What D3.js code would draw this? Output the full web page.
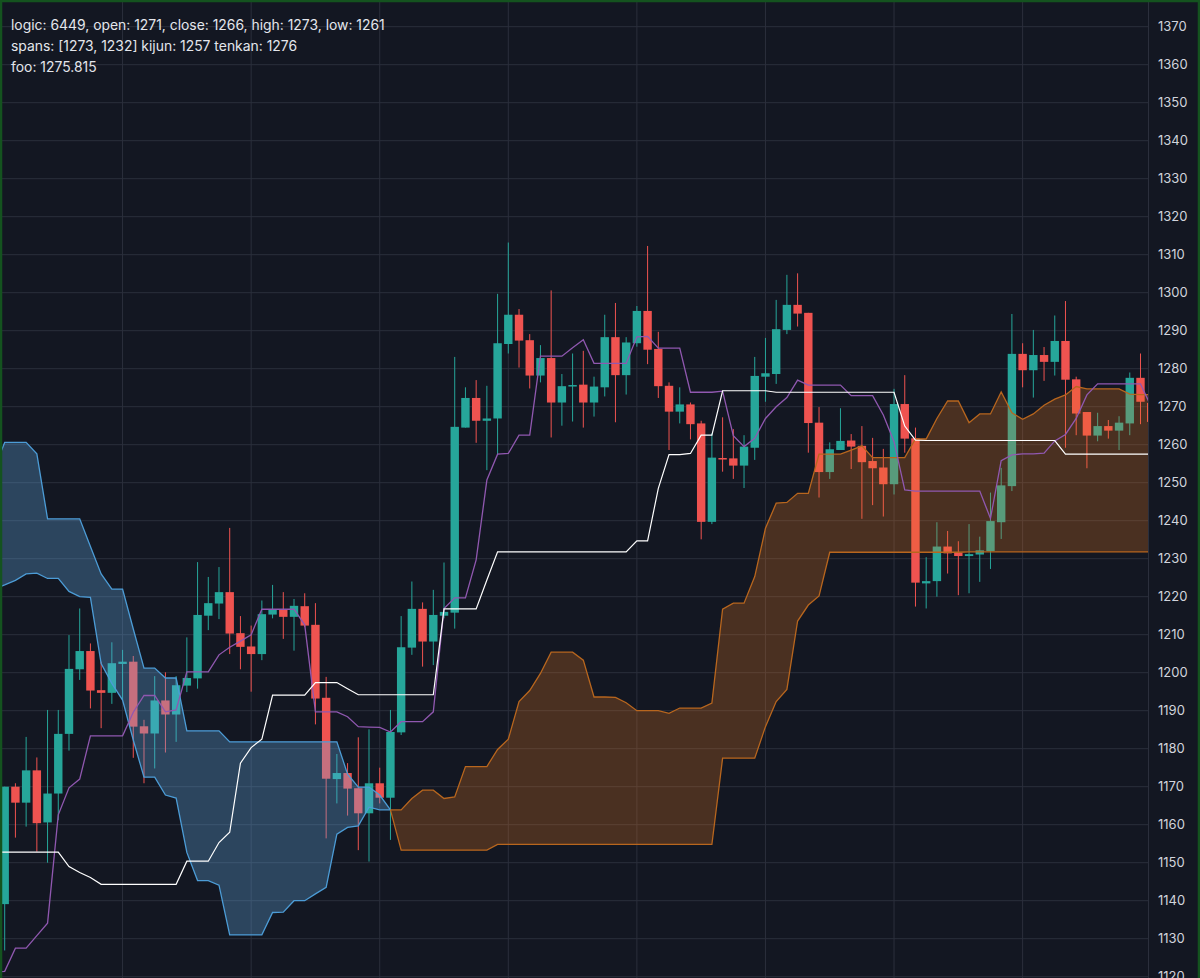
<!DOCTYPE html>
<html lang="en">
<head>
  <meta charset="UTF-8">
  <title>Ichimoku chart</title>
  <script src="https://d3js.org/d3.v7.min.js"></script>
  <style>
    html, body { margin: 0; padding: 0; background: #131722; }
    svg { display: block; }
    .price text { font-family: Inter, sans-serif; font-size: 13px; fill: #d1d4dc; }
    .legend text { font-family: Inter, sans-serif; font-size: 13.9px; fill: #e4e6ec; }
  </style>
</head>
<body>
  <div id="viz"></div>
  <script>
    // Candles, one entry per bar
    const opens = [1139.1,1170,1165.8,1174.3,1160.6,1168.2,1183.9,1200.9,1205.7,1195.4,1194.7,1202.3,1202.9,1185.9,1184,1192.7,1189,1196.6,1198.5,1215,1218.2,1221.2,1210.4,1206.9,1204.9,1215.3,1216.7,1214.7,1217.5,1212.6,1193.4,1172,1173.6,1169.6,1163,1170.9,1167.1,1184.3,1206.6,1216.8,1208.2,1215,1215.8,1264.5,1272.3,1266.3,1266.9,1286.5,1294.2,1287.5,1278.2,1282.8,1271.1,1275.4,1275.8,1271.1,1275.1,1288.3,1278.3,1286.7,1295.2,1285.2,1275.5,1268.7,1270.6,1265.6,1239.7,1256.5,1256.4,1254.5,1259.2,1277.9,1278.6,1290.2,1296.8,1294.7,1265.8,1252.8,1258.6,1261.1,1259.7,1255.7,1254,1249.6,1270.7,1261.7,1223.5,1224.1,1233.2,1231.6,1230.7,1231.1,1232,1239.6,1249.1,1283.9,1279.6,1283.6,1281.8,1287.3,1277.2,1268.6,1262.4,1264.9,1263.7,1265.6,1277.6,1271];
    const closes = [1170,1165.8,1174.3,1160.4,1168.2,1183.9,1201,1205.7,1195.3,1194.7,1202.5,1202.9,1185.8,1184,1192.7,1189,1196.7,1198.6,1215.2,1218.3,1221.2,1210.3,1206.8,1204.9,1215.4,1216.7,1214.7,1217.6,1212.4,1193.2,1172.1,1173.6,1169.5,1163,1170.9,1167.1,1184.4,1206.7,1216.8,1208.2,1215.2,1216,1264.7,1272.3,1266.3,1266.9,1286.7,1294.2,1287.4,1278.2,1282.8,1271.1,1275.4,1275.7,1271.1,1275.3,1288.3,1278.3,1286.9,1295.2,1285,1275.4,1268.7,1270.6,1265.4,1239.7,1256.6,1256.1,1254.5,1259.5,1278.1,1278.8,1290.4,1296.8,1294.5,1265.7,1252.8,1258.8,1261,1259.5,1255.4,1253.8,1249.6,1270.7,1261.6,1223.7,1224.1,1233.2,1231.4,1230.7,1231.2,1232.2,1239.9,1249.3,1283.9,1279.6,1283.6,1281.8,1287.3,1277.1,1268.2,1262.4,1264.9,1263.7,1265.8,1277.6,1271.3,1266];
    const highs = [1170,1170.9,1183.1,1177.7,1190.2,1190.2,1209.9,1216.9,1207.7,1202.9,1208,1206,1204.4,1187.6,1199.1,1200.1,1199.1,1209.3,1229.1,1225.2,1227.8,1238.1,1214.9,1212.4,1219,1223.1,1221.2,1219.4,1220.9,1218.3,1198.9,1178.6,1176.2,1183,1185.1,1175,1190.2,1214.9,1224,1218.5,1221.8,1229,1283.1,1275.1,1277,1275.5,1299.7,1313.2,1295.7,1289.1,1286.2,1300.6,1278.6,1284,1284.7,1277.9,1294.2,1297.3,1288.3,1296.5,1312.3,1289.7,1276.4,1275.1,1271.1,1266.3,1263,1267.2,1264.1,1262.5,1283.1,1288.1,1298.1,1304.7,1305.1,1294.7,1269.9,1260.6,1269.6,1262.8,1264.9,1261.8,1258.9,1274.7,1278.3,1264.5,1230.4,1239.6,1237.3,1234.6,1239.1,1235.8,1247.4,1253.9,1294.4,1286.7,1290.2,1285.7,1294,1297.8,1277.9,1268.6,1268.4,1266.5,1267.5,1279,1284,1273];
    const lows = [1126.9,1156.6,1159.5,1152.9,1150,1161.2,1179.5,1198.1,1190.6,1185.4,1191.8,1192.8,1177.6,1170.9,1174.8,1179,1181.8,1194.9,1195.8,1211.2,1214.1,1204.9,1200.9,1195,1203.3,1214.3,1208.9,1205.8,1212,1186.4,1156.4,1165.6,1162.4,1153.3,1150.3,1165.6,1156,1183.6,1204.7,1201.6,1202,1214.3,1211.6,1264.5,1260.5,1253.3,1257.5,1284,1280.3,1274.8,1276.4,1261.9,1265,1266.1,1264.5,1267.4,1272.7,1265.9,1273.2,1285.8,1281.2,1272.3,1258.6,1265.6,1261.4,1235.1,1239.1,1252.9,1251,1248.6,1256,1271.3,1276,1289.1,1291.1,1257.9,1246.1,1251,1258.6,1253.6,1240.5,1244.1,1241.1,1246.9,1257.9,1217.4,1216.9,1220,1226.1,1220.4,1220.9,1223.9,1227.3,1235.2,1247.8,1275.1,1272.4,1276.8,1278.2,1259.2,1262.5,1253.8,1260.9,1261.6,1258.6,1262.5,1265.4,1261];

    // Line series start one bar before the first candle
    const tenkan = [1121.3,1121.4,1127.5,1127.5,1130.8,1134.1,1162.6,1169.7,1172,1183.4,1183.4,1183.4,1183.4,1189.6,1194,1194,1189.7,1190.2,1200.2,1200.2,1200.2,1204.7,1206.7,1208.3,1210,1216.7,1216.7,1216.7,1216.7,1212.6,1189.7,1189.7,1189.7,1188.4,1185.8,1185.7,1185.6,1184.4,1187.1,1187.1,1187.1,1189.7,1216.9,1219.7,1219.7,1229.7,1250.7,1257.5,1257.7,1262.5,1262.5,1283.3,1283.3,1283.3,1285.5,1287.6,1281.4,1281.4,1281.4,1281.4,1288.4,1288.5,1285.4,1285.4,1285.4,1273.8,1273.8,1273.8,1274.1,1262.4,1259.5,1261.7,1266.9,1270,1272.4,1277,1275.7,1275.7,1275.7,1275.7,1272.9,1272.9,1272.9,1267.8,1260.8,1248.1,1247.8,1247.8,1247.8,1247.8,1247.8,1247.8,1247.8,1240.6,1255.8,1257.3,1257.6,1257.6,1257.8,1261,1262.7,1266.9,1273.1,1276,1276,1276,1276,1276,1270];
    const kijun = [1152.8,1152.8,1152.8,1152.8,1152.8,1152.8,1152.8,1149,1147.4,1146.1,1144.3,1144.3,1144.3,1144.3,1144.3,1144.3,1144.3,1144.3,1150.4,1150.4,1150.4,1155.3,1158,1176.2,1180.3,1182.5,1194.1,1194.1,1194.1,1194.1,1197.4,1197.4,1197.4,1195.8,1194.2,1194.2,1194.2,1194.2,1194.2,1194.2,1194.2,1194.2,1216.8,1216.8,1216.8,1216.8,1224.4,1231.8,1231.8,1231.8,1231.8,1231.8,1231.8,1231.8,1231.8,1231.8,1231.8,1231.8,1231.8,1231.8,1234.7,1234.7,1248.5,1257.4,1257.4,1257.7,1262.5,1262.5,1274.2,1274.2,1274.2,1274.2,1274.2,1273.8,1273.8,1273.8,1273.8,1273.8,1273.8,1273.8,1273.8,1273.8,1273.8,1273.8,1273.8,1264.9,1261.2,1261.1,1261.1,1261.1,1261.1,1261.1,1261.1,1261.1,1261.1,1261.1,1261.1,1261.1,1261.1,1261.1,1257.5,1257.5,1257.5,1257.5,1257.5,1257.5,1257.5,1257.5,1257.5];
    const spanA = [1222,1223.1,1224.3,1226,1226.2,1224.8,1224.8,1221.4,1220,1219.8,1202.4,1197.2,1192.8,1182.3,1172.5,1172.5,1167.8,1167,1152.7,1145.3,1145.3,1144.1,1131,1131,1131,1131,1136.9,1137,1140,1140,1141.8,1143.5,1157.5,1159.3,1159.7,1164.6,1163.9,1163.9,1163.9,1166.9,1169.1,1169.1,1166.9,1167.3,1175.3,1175.3,1175.3,1179.8,1182.5,1192.4,1195.3,1199.8,1205.4,1205.4,1205.4,1203.3,1193.6,1193.6,1193.5,1192.1,1190,1190,1190,1189.3,1190.7,1190.7,1190.7,1192,1216.7,1218.3,1218.3,1225.3,1238,1244.6,1244.8,1247.2,1247.2,1257.5,1257.5,1257.5,1258.6,1259.7,1256.6,1256.6,1256.6,1256.6,1261.5,1261.5,1266.9,1271.5,1271.5,1265.8,1268.1,1268.1,1273.9,1268.4,1266.7,1268.1,1270.4,1272,1273.1,1275.3,1274.7,1274.7,1274.7,1274.7,1273.3,1273.2,1273.2];
    const spanB = [1253.5,1260.6,1260.6,1260.6,1257.6,1240.5,1240.5,1240.5,1240.5,1233.2,1226,1222,1222,1211.5,1201.2,1201.2,1198.6,1198.6,1184.7,1184.7,1184.7,1184.7,1181.8,1181.8,1181.8,1181.8,1181.8,1181.8,1181.8,1181.8,1181.8,1181.8,1181.8,1173.3,1169.9,1169.9,1167.8,1163.9,1153.3,1153.3,1153.3,1153.3,1153.3,1153.3,1153.3,1153.3,1153.3,1154.8,1154.8,1154.8,1154.8,1154.8,1154.8,1154.8,1154.8,1154.8,1154.8,1154.8,1154.8,1154.8,1154.8,1154.8,1154.8,1154.8,1154.8,1154.8,1154.8,1154.8,1177.5,1177.5,1177.5,1177.5,1185.8,1192.4,1195.6,1213.6,1217.8,1220.2,1231.7,1231.7,1231.7,1231.7,1231.7,1231.7,1231.7,1231.7,1231.7,1231.7,1231.7,1231.7,1231.7,1231.8,1231.8,1231.8,1231.8,1231.8,1231.8,1231.8,1231.8,1231.8,1231.8,1231.8,1231.8,1231.8,1231.8,1231.8,1231.8,1231.8,1231.8];

    const priceTicks = d3.range(1120, 1380, 10);
    const gridBars = [11, 23, 35, 47, 59, 71, 83, 95];
    const legendLines = [
      'logic: 6449, open: 1271, close: 1266, high: 1273, low: 1261',
      'spans: [1273, 1232] kijun: 1257 tenkan: 1276',
      'foo: 1275.815'
    ];

    // Dimensions
    const width = 1200, height = 978, plotRight = 1148;
    const bodyWidth = 8.4;

    const svg = d3.select('#viz').append('svg')
      .attr('width', width)
      .attr('height', height);

    // Scales
    const x = d3.scaleLinear().domain([0, 107]).range([4.7, 1151.2]);
    const y = d3.scaleLinear().domain([1120, 1370]).range([976.7, 26.7]);

    svg.append('rect').attr('width', width).attr('height', height).attr('fill', '#131722');

    svg.append('clipPath').attr('id', 'plot')
      .append('rect').attr('width', plotRight).attr('height', height);

    const plot = svg.append('g').attr('clip-path', 'url(#plot)');

    // Grid
    plot.append('g').selectAll('line').data(priceTicks).enter().append('line')
      .attr('x1', 0).attr('x2', plotRight)
      .attr('y1', d => y(d)).attr('y2', d => y(d))
      .attr('stroke', '#2b2f3c');
    plot.append('g').selectAll('line').data(gridBars).enter().append('line')
      .attr('x1', d => x(d)).attr('x2', d => x(d))
      .attr('y1', 0).attr('y2', height)
      .attr('stroke', '#2b2f3c');

    // Candles
    const bars = d3.range(opens.length);
    const barColor = i => closes[i] >= opens[i] ? '#26a69a' : '#ef5350';
    const candles = plot.append('g');
    candles.selectAll('line').data(bars).enter().append('line')
      .attr('x1', i => x(i)).attr('x2', i => x(i))
      .attr('y1', i => y(highs[i])).attr('y2', i => y(lows[i]))
      .attr('stroke', barColor);
    candles.selectAll('rect').data(bars).enter().append('rect')
      .attr('x', i => x(i) - bodyWidth / 2)
      .attr('width', bodyWidth)
      .attr('y', i => y(Math.max(opens[i], closes[i])))
      .attr('height', i => Math.max(1.5, Math.abs(y(opens[i]) - y(closes[i]))))
      .attr('fill', barColor);

    // Cloud: the spans cross at bar 36, blue before it and orange after
    const crossBar = 36;
    const cloud = d3.range(spanA.length).map(k => ({bar: k - 1, a: spanA[k], b: spanB[k]}));
    const cloudParts = [
      {rows: cloud.filter(d => d.bar <= crossBar), fill: 'rgb(102,176,234)', opacity: 0.3, line: '#4c9cd6'},
      {rows: cloud.filter(d => d.bar >= crossBar), fill: 'rgb(239,123,30)', opacity: 0.25, line: '#b8661e'}
    ];
    const area = d3.area().x(d => x(d.bar)).y0(d => y(d.a)).y1(d => y(d.b));
    const lineA = d3.line().x(d => x(d.bar)).y(d => y(d.a));
    const lineB = d3.line().x(d => x(d.bar)).y(d => y(d.b));
    cloudParts.forEach(part => {
      plot.append('path').attr('d', area(part.rows))
        .attr('fill', part.fill).attr('fill-opacity', part.opacity);
      [lineA, lineB].forEach(gen => {
        plot.append('path').attr('d', gen(part.rows))
          .attr('fill', 'none').attr('stroke', part.line).attr('stroke-width', 1.3);
      });
    });

    // Tenkan and kijun
    const seriesLine = d3.line().x((d, k) => x(k - 1)).y(d => y(d));
    plot.append('path').attr('d', seriesLine(tenkan))
      .attr('fill', 'none').attr('stroke', '#9058b0').attr('stroke-width', 1.3);
    plot.append('path').attr('d', seriesLine(kijun))
      .attr('fill', 'none').attr('stroke', '#ffffff').attr('stroke-width', 1.2);

    // Price axis
    const axis = svg.append('g').attr('class', 'price')
      .attr('transform', `translate(${plotRight},0)`)
      .call(d3.axisRight(y).tickValues(priceTicks).tickFormat(d3.format('d')).tickSize(0).tickPadding(10));
    axis.select('.domain').remove();
    svg.append('line')
      .attr('x1', plotRight + 0.5).attr('x2', plotRight + 0.5)
      .attr('y1', 0).attr('y2', height)
      .attr('stroke', '#2b2f3c');

    // Legend
    svg.append('g').attr('class', 'legend').selectAll('text').data(legendLines).enter().append('text')
      .attr('x', 11)
      .attr('y', (d, i) => 30 + i * 21)
      .text(d => d);

    // Window frame
    svg.append('path')
      .attr('d', `M1,${height}V1H${width - 1}V${height}`)
      .attr('fill', 'none')
      .attr('stroke', '#14531f')
      .attr('stroke-width', 2.5);
  </script>
</body>
</html>
